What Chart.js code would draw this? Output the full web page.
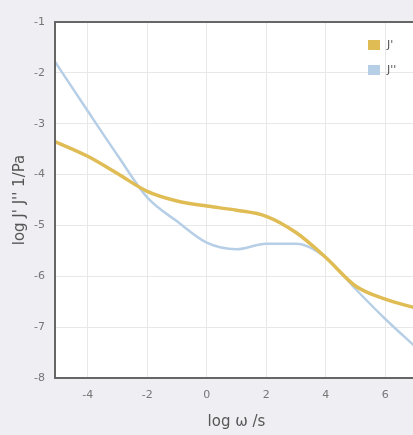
<!DOCTYPE html>
<html>
<head>
<meta charset="utf-8">
<script src="https://cdn.jsdelivr.net/npm/chart.js@4/dist/chart.umd.min.js"></script>
<style>
html,body{margin:0;padding:0;background:#eeeef3;overflow:hidden;}
canvas{display:block;}
</style>
</head>
<body>
<canvas id="c" width="422" height="435"></canvas>
<script>
const seriesNames = ["J'", "J''"];
const xValues = [-5.1, -4, -3, -2, -1, 0, 1, 2, 3, 4, 5, 6, 7];
const jPrime = [-3.35, -3.64, -3.98, -4.33, -4.52, -4.62, -4.70, -4.82, -5.14, -5.63, -6.19, -6.45, -6.62];
const jDoublePrime = [-1.78, -2.75, -3.62, -4.45, -4.92, -5.34, -5.47, -5.36, -5.36, -5.63, -6.25, -6.84, -7.38];
const xTicks = [-4, -2, 0, 2, 4, 6];
const yTicks = [-8, -7, -6, -5, -4, -3, -2, -1];
const colors = ['#e0bc55', '#b6cfe6'];

const toPts = ys => xValues.map((x, i) => ({x: x, y: ys[i]}));

const bgPlugin = {
  id: 'bg',
  beforeDraw(chart) {
    const {ctx, chartArea: a} = chart;
    ctx.save();
    ctx.fillStyle = '#eeeef3';
    ctx.fillRect(0, 0, chart.width, chart.height);
    ctx.fillStyle = '#ffffff';
    ctx.fillRect(a.left, a.top, a.right - a.left, a.bottom - a.top);
    ctx.restore();
  },
  afterDatasetsDraw(chart) {
    const {ctx, chartArea: a} = chart;
    ctx.save();
    ctx.strokeStyle = '#666666';
    ctx.lineWidth = 2;
    ctx.strokeRect(a.left, a.top, a.right - a.left, a.bottom - a.top);
    // legend
    ctx.font = '11px "DejaVu Sans", sans-serif';
    ctx.textBaseline = 'middle';
    chart.data.datasets.forEach((ds, i) => {
      const y = 45 + i * 25;
      ctx.fillStyle = ds.borderColor;
      ctx.fillRect(368, y - 5, 12, 10);
      ctx.fillStyle = '#555';
      ctx.fillText(ds.label, 387, y);
    });
    ctx.restore();
  }
};

new Chart(document.getElementById('c'), {
  type: 'scatter',
  data: {
    datasets: [
      {label: seriesNames[0], data: toPts(jPrime), showLine: true, borderColor: colors[0], backgroundColor: colors[0], borderWidth: 3.5, pointRadius: 0, tension: 0.4, cubicInterpolationMode: 'monotone'},
      {label: seriesNames[1], data: toPts(jDoublePrime), showLine: true, borderColor: colors[1], backgroundColor: colors[1], borderWidth: 2.5, pointRadius: 0, tension: 0.4, cubicInterpolationMode: 'monotone'}
    ]
  },
  options: {
    responsive: false,
    animation: false,
    layout: {padding: {top: 22, right: 4, left: 0, bottom: 0}},
    plugins: {legend: {display: false}, tooltip: {enabled: false}},
    scales: {
      x: {
        type: 'linear', min: -5.1, max: 7.1,
        afterBuildTicks: s => { s.ticks = xTicks.map(v => ({value: v})); },
        afterFit: s => { s.height = 57; },
        grid: {color: '#e8e8e8', drawTicks: false},
        border: {display: false},
        ticks: {color: '#777', font: {size: 11, family: 'DejaVu Sans'}, padding: 11},
        title: {display: true, text: 'log ω /s', color: '#555', font: {size: 15, family: 'DejaVu Sans'}, padding: {top: 4}}
      },
      y: {
        type: 'linear', min: -8, max: -1,
        afterBuildTicks: s => { s.ticks = yTicks.map(v => ({value: v})); },
        afterFit: s => { s.width = 55; },
        grid: {color: '#e8e8e8', drawTicks: false},
        border: {display: false},
        ticks: {color: '#777', font: {size: 11, family: 'DejaVu Sans'}, padding: 10},
        title: {display: true, text: "log J' J'' 1/Pa", color: '#555', font: {size: 15, family: 'DejaVu Sans'}, padding: {top: 11, bottom: 0}}
      }
    }
  },
  plugins: [bgPlugin]
});
</script>
</body>
</html>
